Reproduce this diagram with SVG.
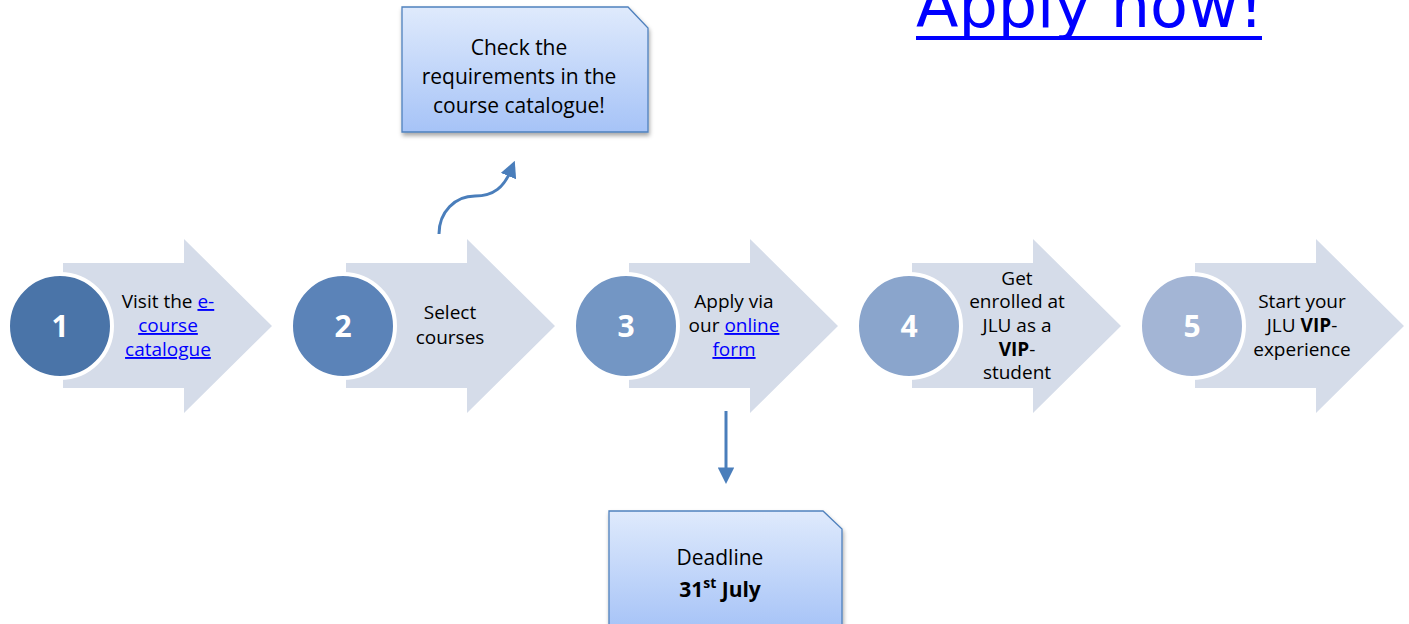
<svg xmlns="http://www.w3.org/2000/svg" width="1409" height="624" viewBox="0 0 1409 624">
<style>
.t{font-family:"Open Sans","Liberation Sans",sans-serif;font-size:19px;fill:#000;text-anchor:middle}
.lk{fill:#0000ff;text-decoration:underline}
.num{font-family:"Open Sans","Liberation Sans",sans-serif;font-size:30px;font-weight:bold;fill:#fff;text-anchor:middle}
.arr{fill:#d5dce9}
.circ{stroke:#fff;stroke-width:4}
.box{fill:url(#bg);stroke:#4f81bd;stroke-width:1.3;filter:url(#sh)}
.bt{font-family:"Open Sans","Liberation Sans",sans-serif;font-size:21px;fill:#000;text-anchor:middle}
.con{fill:none;stroke:#4a7ebb;stroke-width:3}
</style>
<defs>
<linearGradient id="bg" x1="0" y1="0" x2="0" y2="1">
<stop offset="0" stop-color="#dfeafc"/>
<stop offset="1" stop-color="#a6c3f7"/>
</linearGradient>
<filter id="sh" x="-10%" y="-10%" width="120%" height="130%">
<feDropShadow dx="1" dy="3" stdDeviation="2" flood-color="#000" flood-opacity="0.35"/>
</filter>
<marker id="ah" viewBox="0 0 10 10" refX="4" refY="5" markerWidth="5.5" markerHeight="5.5" orient="auto" markerUnits="strokeWidth">
<path d="M0,0 L10,5 L0,10 z" fill="#4a7ebb"/>
</marker>
</defs>
<rect width="1409" height="624" fill="#fff"/>

<g id="apply-now">
<text x="916" y="27" font-family="DejaVu Sans, sans-serif" font-size="62" fill="#0000ff">Apply now!</text>
<rect x="916" y="36" width="346" height="4" fill="#0000ff"/>
</g>

<g id="step1">
<path class="arr" d="M63,263 H184 V239 L272,326 L184,413 V388 H63 Z"/>
<circle class="circ" cx="60" cy="326" r="52" fill="#4a74a8"/>
<text class="num" x="60" y="337">1</text>
<text class="t"><tspan x="168" y="308">Visit the <tspan class="lk">e-</tspan></tspan><tspan x="168" y="332" class="lk">course</tspan><tspan x="168" y="356" class="lk">catalogue</tspan></text>
</g>

<g id="step2">
<path class="arr" d="M346,263 H467 V239 L555,326 L467,413 V388 H346 Z"/>
<circle class="circ" cx="343" cy="326" r="52" fill="#5b83b8"/>
<text class="num" x="343" y="337">2</text>
<text class="t"><tspan x="450" y="319">Select</tspan><tspan x="450" y="344">courses</tspan></text>
</g>

<g id="step3">
<path class="arr" d="M629,263 H750 V239 L838,326 L750,413 V388 H629 Z"/>
<circle class="circ" cx="626" cy="326" r="52" fill="#7396c4"/>
<text class="num" x="626" y="337">3</text>
<text class="t"><tspan x="734" y="308">Apply via</tspan><tspan x="734" y="332">our <tspan class="lk">online</tspan></tspan><tspan x="734" y="356" class="lk">form</tspan></text>
</g>

<g id="step4">
<path class="arr" d="M912,263 H1033 V239 L1121,326 L1033,413 V388 H912 Z"/>
<circle class="circ" cx="909" cy="326" r="52" fill="#8aa5cc"/>
<text class="num" x="909" y="337">4</text>
<text class="t"><tspan x="1017" y="285">Get</tspan><tspan x="1017" y="308">enrolled at</tspan><tspan x="1017" y="332">JLU as a</tspan><tspan x="1017" y="356"><tspan font-weight="bold">VIP</tspan>-</tspan><tspan x="1017" y="379">student</tspan></text>
</g>

<g id="step5">
<path class="arr" d="M1195,263 H1316 V239 L1404,326 L1316,413 V388 H1195 Z"/>
<circle class="circ" cx="1192" cy="326" r="52" fill="#a3b5d5"/>
<text class="num" x="1192" y="337">5</text>
<text class="t"><tspan x="1302" y="308">Start your</tspan><tspan x="1302" y="332">JLU <tspan font-weight="bold">VIP</tspan>-</tspan><tspan x="1302" y="356">experience</tspan></text>
</g>

<g id="note-requirements">
<path class="box" d="M402,7 H628 L648,28 V132 H402 Z"/>
<text class="bt"><tspan x="519" y="55">Check the</tspan><tspan x="519" y="84">requirements in the</tspan><tspan x="519" y="113">course catalogue!</tspan></text>
</g>

<g id="note-deadline">
<path class="box" d="M609,511 H823 L842,529 V630 H609 Z"/>
<text class="bt" font-size="23"><tspan x="720" y="565">Deadline</tspan><tspan x="720" y="597" font-weight="bold">31<tspan font-size="14" dy="-9">st</tspan><tspan dy="9"> July</tspan></tspan></text>
</g>

<g id="connectors">
<path class="con" d="M439,234 C439,212 455,196 475,196 C494,196 504,187 511,170" marker-end="url(#ah)"/>
<path class="con" d="M726,411 V474" marker-end="url(#ah)"/>
</g>
</svg>
